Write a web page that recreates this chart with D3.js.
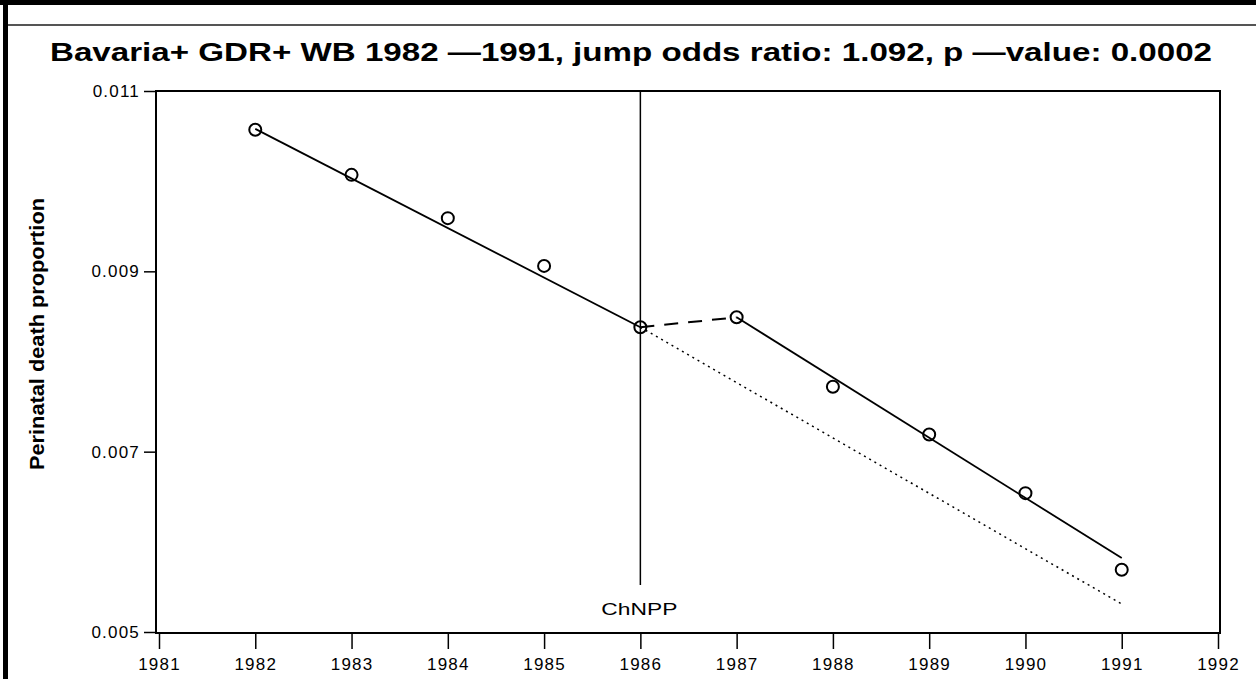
<!DOCTYPE html>
<html>
<head>
<meta charset="utf-8">
<script src="https://cdn.jsdelivr.net/npm/d3@7.9.0/dist/d3.min.js"></script>
<style>
  body { margin: 0; background: #fff; }
  svg { display: block; font-family: "Liberation Sans", Arial, sans-serif; }
</style>
</head>
<body>
<svg id="chart" width="1256" height="679"></svg>
<script>
const years = [1982, 1983, 1984, 1985, 1986, 1987, 1988, 1989, 1990, 1991];
const deathProp = [0.01057, 0.01007, 0.00959, 0.00906, 0.00838, 0.00849, 0.00772, 0.00719, 0.00654, 0.00569];

// fitted trend before / after, and the extrapolated trend
const fitBeforeYears = [1982, 1986];
const fitBeforeVals = [0.01058, 0.00838];
const fitAfterYears = [1987, 1991];
const fitAfterVals = [0.00849, 0.00582];
const jumpYears = [1986, 1987];
const jumpVals = [0.00838, 0.00849];
const extrapYears = [1986, 1991];
const extrapVals = [0.00838, 0.00531];

const xTicks = [1981, 1982, 1983, 1984, 1985, 1986, 1987, 1988, 1989, 1990, 1991, 1992];
const yTicks = [0.005, 0.007, 0.009, 0.011];
const eventYear = 1986;
const eventLabel = "ChNPP";

const title = "Bavaria+ GDR+ WB 1982  \u20141991, jump odds ratio: 1.092, p \u2014value: 0.0002";
const yLabel = "Perinatal death proportion";

const svg = d3.select('#chart');

// outer frame of the original output window
svg.append('rect').attr('x', 0).attr('y', 0).attr('width', 1256).attr('height', 5).attr('fill', '#000');
svg.append('rect').attr('x', 3).attr('y', 0).attr('width', 5).attr('height', 679).attr('fill', '#000');
svg.append('rect').attr('x', 8).attr('y', 24).attr('width', 1248).attr('height', 2).attr('fill', '#555');

const plotLeft = 156, plotRight = 1220, plotTop = 91, plotBottom = 633;

let x = d3.scaleLinear().domain([1981, 1992]).range([159, 1218]);
let y = d3.scaleLinear().domain([0.005, 0.011]).range([632, 91]);

// title
svg.append('text')
  .attr('x', 631).attr('y', 61)
  .attr('text-anchor', 'middle')
  .attr('font-size', 26).attr('font-weight', 'bold')
  .attr('textLength', 1162).attr('lengthAdjust', 'spacingAndGlyphs')
  .text(title);

// plot frame
svg.append('rect')
  .attr('x', plotLeft).attr('y', plotTop)
  .attr('width', plotRight - plotLeft).attr('height', plotBottom - plotTop)
  .attr('fill', 'none').attr('stroke', '#000').attr('stroke-width', 2);

// y axis
let yAxis = d3.axisLeft(y).tickValues(yTicks).tickFormat(d3.format('.3f')).tickSize(12).tickPadding(4);
let gy = svg.append('g').attr('transform', `translate(${plotLeft},0)`).call(yAxis);
gy.select('.domain').remove();
gy.selectAll('line').attr('stroke-width', 1.5);
gy.selectAll('text').style('font-size', '17px').style('letter-spacing', '1.2px');

// x axis
let xAxis = d3.axisBottom(x).tickValues(xTicks).tickFormat(d3.format('d')).tickSize(15).tickPadding(9);
let gx = svg.append('g').attr('transform', `translate(0,${plotBottom + 1})`).call(xAxis);
gx.select('.domain').remove();
gx.selectAll('line').attr('stroke-width', 1.5);
gx.selectAll('text').style('font-size', '17px').style('letter-spacing', '1.2px');

// y axis title
svg.append('text')
  .attr('transform', 'translate(44,334) rotate(-90)')
  .attr('text-anchor', 'middle')
  .attr('font-size', 21).attr('font-weight', 'bold')
  .attr('textLength', 272).attr('lengthAdjust', 'spacingAndGlyphs')
  .text(yLabel);

// event line
svg.append('line')
  .attr('x1', x(eventYear)).attr('x2', x(eventYear))
  .attr('y1', plotTop).attr('y2', 585)
  .attr('stroke', '#000').attr('stroke-width', 1.5);
svg.append('text')
  .attr('x', x(eventYear) - 1).attr('y', 615)
  .attr('text-anchor', 'middle')
  .attr('font-size', 17)
  .attr('textLength', 76).attr('lengthAdjust', 'spacingAndGlyphs')
  .text(eventLabel);

let line = d3.line().x((d) => x(d[0])).y((d) => y(d[1]));

function drawLine(xs, vs, dash, width) {
  svg.append('path')
    .attr('d', line(d3.zip(xs, vs)))
    .attr('fill', 'none').attr('stroke', '#000')
    .attr('stroke-width', width)
    .attr('stroke-dasharray', dash);
}

drawLine(fitBeforeYears, fitBeforeVals, null, 1.8);
drawLine(fitAfterYears, fitAfterVals, null, 1.8);
drawLine(jumpYears, jumpVals, '14,10', 2);
drawLine(extrapYears, extrapVals, '2,4', 1.5);

// data points
svg.append('g').selectAll('circle')
  .data(d3.zip(years, deathProp))
  .join('circle')
  .attr('cx', (d) => x(d[0])).attr('cy', (d) => y(d[1]))
  .attr('r', 6)
  .attr('fill', 'none').attr('stroke', '#000').attr('stroke-width', 2);
</script>
</body>
</html>
